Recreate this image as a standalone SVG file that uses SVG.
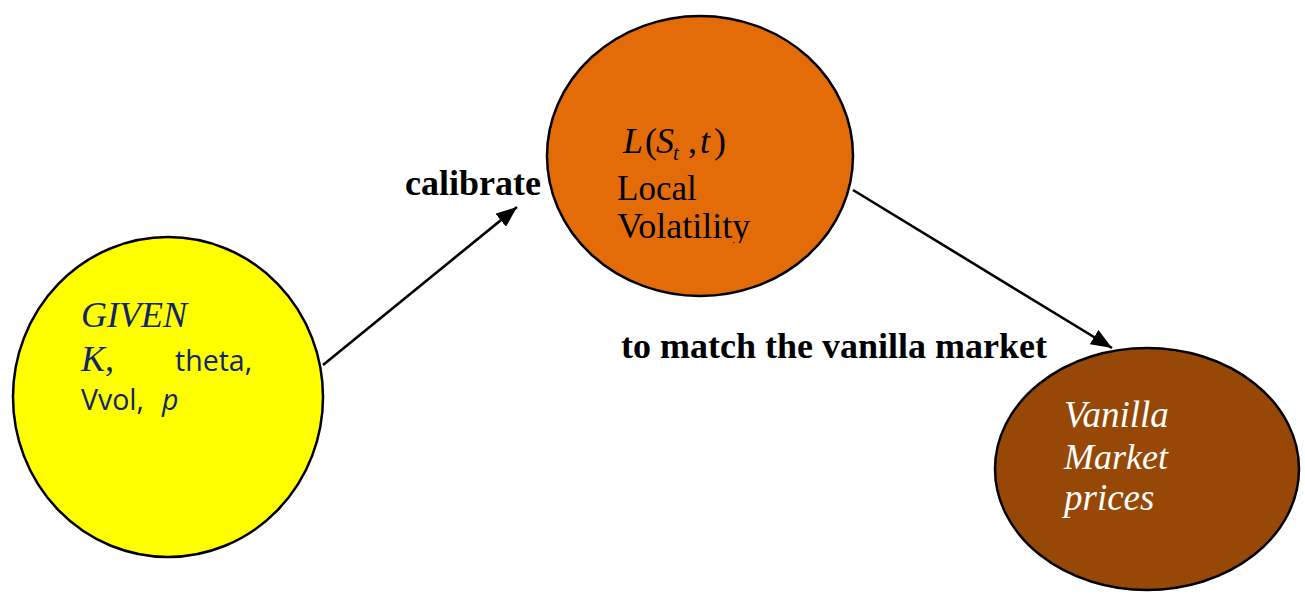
<svg xmlns="http://www.w3.org/2000/svg" width="1305" height="597" viewBox="0 0 1305 597">
<style>
.node{stroke:#000;stroke-width:2.5}
.serif{font-family:"Liberation Serif","Times New Roman",serif}
.sans{font-family:"Open Sans","Liberation Sans",sans-serif}
.lbl{font-family:"Liberation Serif","Times New Roman",serif;font-weight:bold;font-size:36px;fill:#000}
.edge{stroke:#000;stroke-width:2.6;fill:none}
.navy{fill:#10246a}
</style>
<defs>
<marker id="ah" viewBox="0 0 20 16" refX="20" refY="8" markerWidth="21" markerHeight="17" markerUnits="userSpaceOnUse" orient="auto">
<path d="M0,0 L20,8 L0,16 z" fill="#000"/>
</marker>
<clipPath id="lvclip"><rect x="600" y="100" width="200" height="143"/></clipPath>
</defs>
<rect width="1305" height="597" fill="#fff"/>
<g id="connectors">
<line class="edge" x1="323" y1="365" x2="517" y2="207" marker-end="url(#ah)"/>
<line class="edge" x1="853" y1="190" x2="1112" y2="348" marker-end="url(#ah)"/>
<text class="lbl" x="405" y="195">calibrate</text>
<text class="lbl" x="621" y="358">to match the vanilla market</text>
</g>
<g id="given">
<ellipse class="node" cx="168" cy="397" rx="155" ry="160" fill="#ffff00"/>
<text class="serif navy" x="81" y="327" font-size="36" font-style="italic">GIVEN</text>
<text class="serif navy" x="81" y="371" font-size="36" font-style="italic">K,</text>
<text class="sans navy" x="175" y="371" font-size="28.5">theta,</text>
<text class="sans navy" x="81" y="410" font-size="28.5">Vvol, <tspan font-style="italic" x="162">p</tspan></text>
</g>
<g id="localvol">
<ellipse class="node" cx="700" cy="156" rx="153" ry="140" fill="#e36c09"/>
<text class="serif" y="153" font-size="36" fill="#000"><tspan x="623" font-style="italic">L</tspan><tspan x="645">(</tspan><tspan x="656" font-style="italic">S</tspan><tspan x="673" y="160" font-size="21" font-style="italic">t</tspan><tspan x="688" y="153">,</tspan><tspan x="700" font-style="italic">t</tspan><tspan x="714">)</tspan></text>
<text class="serif" x="617" y="200" font-size="35" fill="#000">Local</text>
<g clip-path="url(#lvclip)">
<text class="serif" x="617" y="238" font-size="36" fill="#000">Volatility</text>
</g>
</g>
<g id="vanilla">
<ellipse class="node" cx="1147" cy="469" rx="152" ry="121" fill="#984806"/>
<text class="serif" x="1064" y="427" font-size="37" font-style="italic" fill="#fff">Vanilla</text>
<text class="serif" x="1064" y="469" font-size="36" font-style="italic" fill="#fff">Market</text>
<text class="serif" x="1064" y="510" font-size="37" font-style="italic" fill="#fff">prices</text>
</g>
</svg>
